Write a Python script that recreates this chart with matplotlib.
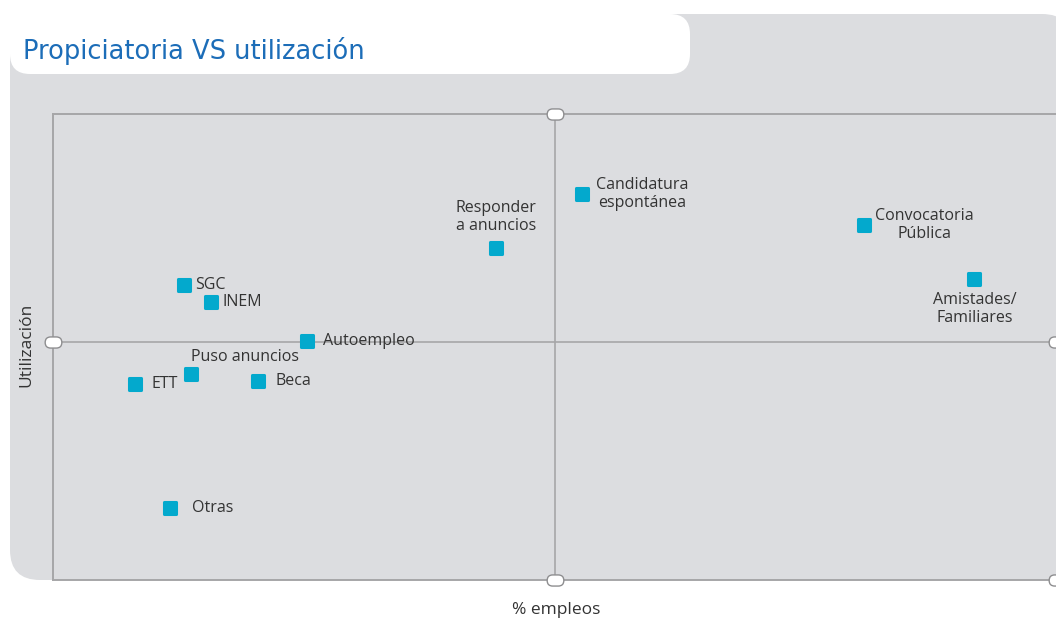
import matplotlib
matplotlib.use("Agg")
import matplotlib.pyplot as plt
from matplotlib.patches import FancyBboxPatch, BoxStyle
from matplotlib.markers import MarkerStyle

# data (x: % empleos, y: utilización, both 0-100)
labels = ["Candidatura\nespontánea", "Responder\na anuncios", "Convocatoria\nPública",
          "Amistades/\nFamiliares", "SGC", "INEM", "Autoempleo", "Puso anuncios",
          "Beca", "ETT", "Otras"]
pct_empleos = [52.7, 44.1, 80.8, 91.7, 13.0, 15.7, 25.3, 13.7, 20.4, 8.2, 11.7]
utilizacion = [82.8, 71.2, 76.2, 64.6, 63.3, 59.7, 51.3, 44.2, 42.7, 42.1, 15.5]
x_mid, y_mid = 50, 51

# label placement: (dx, dy in pixels, ha, va)
placement = [
    (14, 0, "left", "center"),
    (0, 14, "center", "bottom"),
    (11, 0, "left", "center"),
    (1, -13, "center", "top"),
    (12, 0, "left", "center"),
    (12, 0, "left", "center"),
    (16, 0, "left", "center"),
    (0, 17, "left", "center"),
    (18, 0, "left", "center"),
    (16, 0, "left", "center"),
    (22, 0, "left", "center"),
]

W, H = 1056, 620
PANEL = "#dcdde0"
LINE = "#a6a6a8"
DOT = "#03a9cd"
TXT = "#333333"

fig = plt.figure(figsize=(W / 100, H / 100), dpi=100)

# background panel + title tab, drawn in pixel space
bg = fig.add_axes([0, 0, 1, 1], zorder=0)
bg.set_xlim(0, W)
bg.set_ylim(H, 0)
bg.axis("off")
bg.add_patch(FancyBboxPatch((10, 14), 1062, 566, boxstyle="round,pad=0,rounding_size=30",
                            fc=PANEL, ec="none"))
bg.add_patch(FancyBboxPatch((10, 14), 680, 60, boxstyle="round,pad=0,rounding_size=20",
                            fc="white", ec="none"))
bg.text(23, 51, "Propiciatoria VS utilización", fontsize=18.5, color="#1c6db8",
        family="DejaVu Sans", va="center", ha="left")
bg.text(556, 610, "% empleos", fontsize=12.5, color=TXT, family="Open Sans",
        ha="center", va="center")
bg.text(26, 345, "Utilización", fontsize=12.5, color=TXT, family="Open Sans",
        ha="center", va="center", rotation=90)

ax = fig.add_axes([53 / W, 40 / H, 1004 / W, 466 / H], zorder=1)
ax.set_facecolor("none")
ax.set_xlim(0, 100)
ax.set_ylim(0, 100)
ax.set_xticks([])
ax.set_yticks([])
for side in ["left", "top", "bottom", "right"]:
    ax.spines[side].set_color(LINE)
    ax.spines[side].set_linewidth(1.4)

ax.axvline(x_mid, color=LINE, lw=1.2, zorder=1)
ax.axhline(y_mid, color=LINE, lw=1.2, zorder=1)

# pill shaped end caps on the quadrant lines
pill = BoxStyle("Round", pad=0, rounding_size=0.5)(-0.75, -0.5, 1.5, 1.0, 1.0)
cap = MarkerStyle(pill)
caps_x = [x_mid, x_mid, 0, 100, 100]
caps_y = [100, 0, y_mid, y_mid, 0]
ax.plot(caps_x, caps_y, ls="none", marker=cap, ms=12, mfc="white", mec="#8e8e90",
        mew=1.0, clip_on=False, zorder=4)

ax.scatter(pct_empleos, utilizacion, s=64, marker="s", color=DOT, edgecolor=DOT,
           linewidths=2.2, joinstyle="round", zorder=3)

for lab, x, y, (dx, dy, ha, va) in zip(labels, pct_empleos, utilizacion, placement):
    ax.annotate(lab, (x, y), xytext=(dx * 0.72, dy * 0.72), textcoords="offset points",
                ha=ha, va=va, multialignment="center", fontsize=11.5, color=TXT,
                family="Open Sans", linespacing=1.2, zorder=5)

fig.savefig("out.png", dpi=100)
